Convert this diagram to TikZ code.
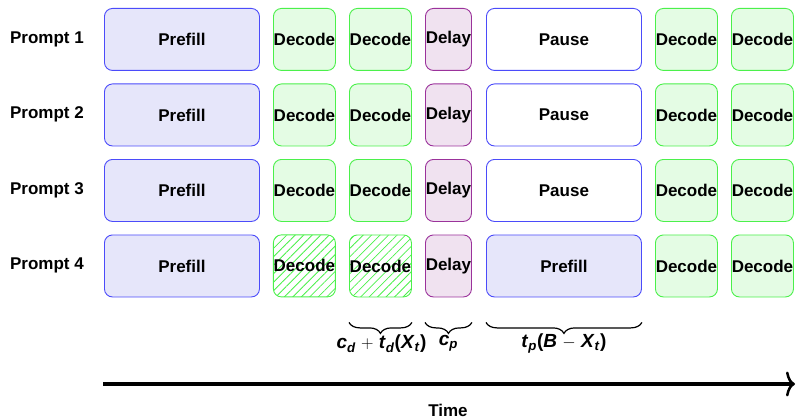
\documentclass[tikz,border=0pt]{standalone}
\usepackage{fontspec}
\setmainfont{Liberation Sans}
\usetikzlibrary{decorations.pathreplacing, patterns.meta, arrows.meta}

% colours of the phases
\definecolor{prefillfill}{RGB}{230,230,250}
\definecolor{prefilldraw}{RGB}{75,75,250}
\definecolor{decodefill}{RGB}{228,252,228}
\definecolor{decodedraw}{RGB}{75,240,75}
\definecolor{delayfill}{RGB}{240,226,240}
\definecolor{delaydraw}{RGB}{155,50,155}

\tikzset{
  phase/.style={draw, rounded corners=8pt, line width=0.9pt, anchor=north west,
                minimum height=62pt, inner sep=0pt},
  prefillbox/.style={phase, fill=prefillfill, draw=prefilldraw, minimum width=155pt},
  pausebox/.style={phase, fill=white, draw=prefilldraw, minimum width=155pt},
  decodebox/.style={phase, fill=decodefill, draw=decodedraw, minimum width=62pt},
  hatchbox/.style={phase, draw=decodedraw, minimum width=62pt,
                   pattern={Lines[angle=45,distance=6pt,line width=0.8pt]},
                   pattern color=decodedraw},
  delaybox/.style={phase, fill=delayfill, draw=delaydraw, minimum width=46pt},
  costbrace/.style={decorate, decoration={brace, mirror, amplitude=11pt}, line width=1.2pt},
  costlabel/.style={font=\fontsize{19}{21}\bfseries\selectfont},
}

% bold italic text for the cost labels
\newcommand{\bi}[1]{\textit{#1}}

\begin{document}
\begin{tikzpicture}[x=1pt, y=-1pt, font=\fontsize{17}{19}\bfseries\selectfont]

    \useasboundingbox (0,0) rectangle (796,420);

    % prompts 1 to 3: prefill, decode, delay, pause, decode
    \foreach \i/\top in {1/8, 2/83.5, 3/159}{
        \node (prompt\i) at (47,\top+31) {Prompt \i};
        \node[prefillbox] (prefill\i) at (104,\top) {Prefill};
        \node[decodebox] (decA\i) at (273,\top) {Decode};
        \node[decodebox] (decB\i) at (349,\top) {Decode};
        \node[delaybox] (delay\i) at (425,\top) {Delay};
        \node[pausebox] (pause\i) at (486,\top) {Pause};
        \node[decodebox] (decC\i) at (655,\top) {Decode};
        \node[decodebox] (decD\i) at (731,\top) {Decode};
    }

    % prompt 4 is prefilled while the others pause
    \node (prompt4) at (47,265.5) {Prompt 4};
    \node[prefillbox] (prefill4) at (104,234.5) {Prefill};
    \node[hatchbox] (decA4) at (273,234.5) {Decode};
    \node[hatchbox] (decB4) at (349,234.5) {Decode};
    \node[delaybox] (delay4) at (425,234.5) {Delay};
    \node[prefillbox] (pause4) at (486,234.5) {Prefill};
    \node[decodebox] (decC4) at (655,234.5) {Decode};
    \node[decodebox] (decD4) at (731,234.5) {Decode};

    % costs
    \draw[costbrace] ([yshift=-25pt]decB4.south west) -- ([yshift=-25pt]decB4.south east);
    \node[costlabel] (costd) at ([xshift=1pt,yshift=-46pt]decB4.south)
        {\bi{c}\textsubscript{\bi{d}}\;$+$\;\bi{t}\textsubscript{\bi{d}}(\bi{X}\textsubscript{\bi{t}})};
    \draw[costbrace] ([yshift=-25pt]delay4.south west) -- ([yshift=-25pt]delay4.south east);
    \node[costlabel] (costp) at ([yshift=-46pt]delay4.south) {\bi{c}\textsubscript{\bi{p}}};
    \draw[costbrace] ([yshift=-25pt]pause4.south west) -- ([yshift=-25pt]pause4.south east);
    \node[costlabel] (costpre) at ([yshift=-46pt]pause4.south)
        {\bi{t}\textsubscript{\bi{p}}(\bi{B}\;$-$\;\bi{X}\textsubscript{\bi{t}})};

    % time axis
    \coordinate (tstart) at (103,384);
    \coordinate (tend) at (795,384);
    \draw[line width=3.5pt, -{Computer Modern Rightarrow[length=9pt,width=25pt,line width=2.5pt]}] (tstart) -- (tend);
    \node (time) at (448,410) {Time};

\end{tikzpicture}
\end{document}
